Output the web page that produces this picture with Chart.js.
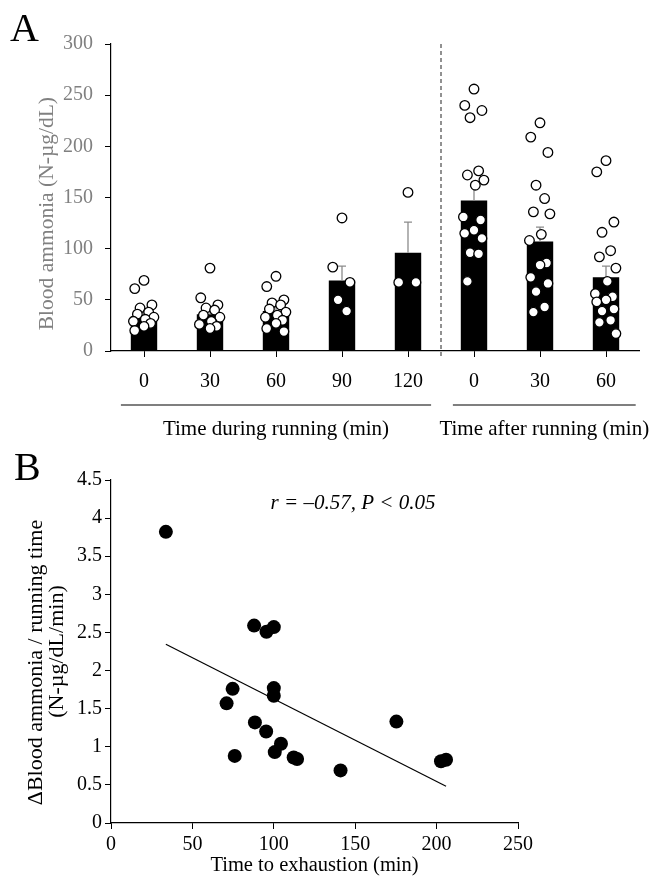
<!DOCTYPE html>
<html lang="en">
<head>
<meta charset="UTF-8">
<title>Blood ammonia during and after running</title>
<script src="https://cdn.jsdelivr.net/npm/chart.js"></script>
<style>
    body { margin: 0; background: #fff; }
    #wrap { position: relative; width: 653px; height: 877px; font-family: 'Liberation Serif', 'Times New Roman', serif; }
    .panel { position: absolute; left: 0; width: 653px; }
    #boxA { top: 0; height: 445px; }
    #boxB { top: 445px; height: 432px; }
    .letter { position: absolute; font-size: 40px; line-height: 1; z-index: 2; }
</style>
</head>
<body>
<div id="wrap">
    <div class="panel" id="boxA"><canvas id="chartA"></canvas></div>
    <div class="panel" id="boxB"><canvas id="chartB"></canvas></div>
    <div class="letter" style="left:10px; top:8px;">A</div>
    <div class="letter" style="left:14px; top:447px;">B</div>
</div>
<script>
    // Panel A: blood ammonia at each time point
    const timeLabels = ['0', '30', '60', '90', '120', '0', '30', '60'];
    const meanAmmonia = [34, 36, 39, 69, 96, 147, 107, 72];
    const semAmmonia = [4, 4, 4, 14, 30, 14, 14, 11];

    // individual subjects, one array per time point
    const run0 = [69, 61, 45, 42, 38, 36, 33, 31, 29, 27, 24, 20];
    const run30 = [81, 52, 45, 42, 40, 35, 33, 29, 26, 24, 22];
    const run60 = [73, 63, 50, 47, 45, 41, 38, 35, 33, 30, 27, 22, 19];
    const run90 = [130, 82, 67, 50, 39];
    const run120 = [155, 67, 67];
    const post0 = [256, 240, 235, 228, 176, 172, 167, 162, 131, 128, 118, 115, 110, 96, 95, 68];
    const post30 = [223, 209, 194, 162, 149, 136, 134, 114, 108, 86, 84, 72, 66, 58, 43, 38];
    const post60 = [186, 175, 126, 116, 98, 92, 81, 68, 56, 53, 50, 48, 41, 39, 30, 28, 17];

    const groupTitles = ['Time during running (min)', 'Time after running (min)'];

    // Panel B: ammonia rise per minute vs time to exhaustion
    const exhaustTime = [33.7, 71, 74.7, 76, 87.9, 88.4, 95.5, 95.3, 100, 100, 100, 100.6, 104.4, 112.2, 114.3, 141, 175.3, 202.7, 205.8];
    const ammoniaRate = [3.82, 1.57, 1.76, 0.88, 2.59, 1.32, 2.51, 1.20, 2.57, 1.77, 1.67, 0.93, 1.04, 0.86, 0.84, 0.69, 1.33, 0.81, 0.83];
    const corrText = 'r = \u20130.57, P < 0.05';

    const serif = "'Liberation Serif', 'Times New Roman', serif";

    // small horizontal spread so the circles don't sit on top of each other
    const spread = [0, -0.14, 0.12, -0.06, 0.07, -0.1, 0.15, 0.02, -0.16, 0.1];
    const allGroups = [run0, run30, run60, run90, run120, post0, post30, post60];
    const subjectPts = [];
    allGroups.forEach((vals, g) => {
        vals.forEach((v, i) => subjectPts.push({ x: g + spread[i % spread.length], y: v }));
    });

    const errorBars = {
        id: 'errorBars',
        afterDatasetDraw(chart, args) {
            if (args.index !== 0) return;
            const ctx = chart.ctx;
            const y = chart.scales.y;
            ctx.save();
            ctx.strokeStyle = '#8c8c8c';
            ctx.lineWidth = 1.3;
            chart.getDatasetMeta(0).data.forEach((bar, i) => {
                const top = y.getPixelForValue(meanAmmonia[i] + semAmmonia[i]);
                ctx.beginPath();
                ctx.moveTo(bar.x, bar.y);
                ctx.lineTo(bar.x, top);
                ctx.moveTo(bar.x - 4, top);
                ctx.lineTo(bar.x + 4, top);
                ctx.stroke();
            });
            ctx.restore();
        }
    };

    const groupMarks = {
        id: 'groupMarks',
        afterDraw(chart) {
            const ctx = chart.ctx;
            const x = chart.scales.x;
            const xj = chart.scales.xj;
            const area = chart.chartArea;
            ctx.save();
            // dashed divider between the running and recovery phases
            const xd = (x.getPixelForValue(4) + x.getPixelForValue(5)) / 2;
            ctx.strokeStyle = '#6e6e6e';
            ctx.lineWidth = 1.5;
            ctx.setLineDash([4, 3]);
            ctx.beginPath();
            ctx.moveTo(xd, area.top);
            ctx.lineTo(xd, area.bottom + 8);
            ctx.stroke();
            ctx.setLineDash([]);
            // group underlines and titles
            const spans = [[-0.35, 4.35], [4.68, 7.45]];
            ctx.strokeStyle = '#000';
            ctx.lineWidth = 1.2;
            ctx.fillStyle = '#000';
            ctx.font = '21px ' + serif;
            ctx.textAlign = 'center';
            ctx.textBaseline = 'middle';
            spans.forEach((s, i) => {
                const x0 = xj.getPixelForValue(s[0]);
                const x1 = xj.getPixelForValue(s[1]);
                const ly = area.bottom + 54;
                ctx.beginPath();
                ctx.moveTo(x0, ly);
                ctx.lineTo(x1, ly);
                ctx.stroke();
                ctx.fillText(groupTitles[i], (x0 + x1) / 2, ly + 24);
            });
            ctx.restore();
        }
    };

    new Chart(document.getElementById('chartA'), {
        data: {
            labels: timeLabels,
            datasets: [{
                type: 'bar',
                data: meanAmmonia,
                backgroundColor: '#000',
                barPercentage: 0.4,
                categoryPercentage: 1,
                grouped: false,
                order: 2
            }, {
                type: 'scatter',
                data: subjectPts,
                xAxisID: 'xj',
                backgroundColor: '#fff',
                borderColor: '#000',
                borderWidth: 1.3,
                pointRadius: 4.8,
                order: 1
            }]
        },
        options: {
            responsive: true,
            maintainAspectRatio: false,
            animation: false,
            layout: { padding: { top: 44, right: 14, left: 0, bottom: 0 } },
            plugins: { legend: { display: false }, tooltip: { enabled: false } },
            scales: {
                x: {
                    type: 'category',
                    offset: true,
                    grid: { drawOnChartArea: false, offset: false, tickLength: 6, color: '#000' },
                    border: { color: '#000', width: 1.2 },
                    ticks: { color: '#000', font: { family: serif, size: 20 }, padding: 13, maxRotation: 0 },
                    afterFit: s => { s.height = 94; }
                },
                xj: { type: 'linear', display: false, min: -0.5, max: 7.5 },
                y: {
                    min: 0,
                    max: 300,
                    grid: { drawOnChartArea: false, tickLength: 6, color: '#000' },
                    border: { color: '#000', width: 1.2 },
                    ticks: { stepSize: 50, color: '#808080', font: { family: serif, size: 20 }, padding: 12 },
                    title: {
                        display: true,
                        // trailing spaces push the label a little below the axis centre, as in the original
                        text: 'Blood ammonia (N-\u00b5g/dL)      ',
                        color: '#808080',
                        font: { family: serif, size: 21.5 },
                        padding: { top: 34, bottom: 0 }
                    },
                    afterFit: s => { s.width = 111; }
                }
            }
        },
        plugins: [errorBars, groupMarks]
    });

    // least squares line through the panel B points
    const n = exhaustTime.length;
    const mx = exhaustTime.reduce((a, b) => a + b, 0) / n;
    const my = ammoniaRate.reduce((a, b) => a + b, 0) / n;
    let sxy = 0, sxx = 0;
    for (let i = 0; i < n; i++) {
        sxy += (exhaustTime[i] - mx) * (ammoniaRate[i] - my);
        sxx += (exhaustTime[i] - mx) ** 2;
    }
    const slope = sxy / sxx;
    const icpt = my - slope * mx;
    const xMin = Math.min(...exhaustTime);
    const xMax = Math.max(...exhaustTime);
    const fitLine = [{ x: xMin, y: icpt + slope * xMin }, { x: xMax, y: icpt + slope * xMax }];

    const corrLabel = {
        id: 'corrLabel',
        afterDraw(chart) {
            const ctx = chart.ctx;
            ctx.save();
            ctx.fillStyle = '#000';
            ctx.font = 'italic 21px ' + serif;
            ctx.textAlign = 'center';
            ctx.textBaseline = 'middle';
            ctx.fillText(corrText, 353, 58);
            ctx.restore();
        }
    };

    new Chart(document.getElementById('chartB'), {
        type: 'scatter',
        data: {
            datasets: [{
                data: exhaustTime.map((t, i) => ({ x: t, y: ammoniaRate[i] })),
                backgroundColor: '#000',
                borderWidth: 0,
                pointRadius: 7,
                order: 1
            }, {
                type: 'line',
                data: fitLine,
                borderColor: '#000',
                borderWidth: 1.2,
                pointRadius: 0,
                order: 2
            }]
        },
        options: {
            responsive: true,
            maintainAspectRatio: false,
            animation: false,
            layout: { padding: { top: 35, right: 135, left: 0, bottom: 0 } },
            plugins: { legend: { display: false }, tooltip: { enabled: false } },
            scales: {
                x: {
                    type: 'linear',
                    min: 0,
                    max: 250,
                    grid: { drawOnChartArea: false, tickLength: 6, color: '#000' },
                    border: { color: '#000', width: 1.2 },
                    ticks: { stepSize: 50, color: '#000', font: { family: serif, size: 20 }, padding: 4 },
                    title: {
                        display: true,
                        text: 'Time to exhaustion (min)',
                        color: '#000',
                        font: { family: serif, size: 20.5, lineHeight: 1.0 },
                        padding: { top: 0, bottom: 1 }
                    },
                    afterFit: s => { s.height = 54; }
                },
                y: {
                    min: 0,
                    max: 4.5,
                    grid: { drawOnChartArea: false, tickLength: 6, color: '#000' },
                    border: { color: '#000', width: 1.2 },
                    ticks: { stepSize: 0.5, color: '#000', font: { family: serif, size: 20 }, padding: 3, callback: v => String(v) },
                    title: {
                        display: true,
                        text: ['\u0394Blood ammonia / running time    ', '(N-\u00b5g/dL/min)'],
                        color: '#000',
                        font: { family: serif, size: 22, lineHeight: 0.95 },
                        padding: { top: 26, bottom: 0 }
                    },
                    afterFit: s => { s.width = 111; }
                }
            }
        },
        plugins: [corrLabel]
    });
</script>
</body>
</html>
